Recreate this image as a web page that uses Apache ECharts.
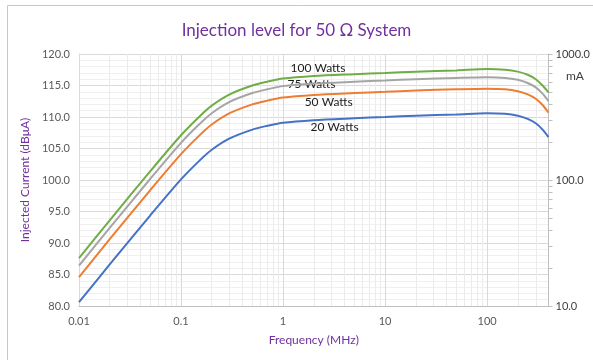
<!DOCTYPE html>
<html>
<head>
<meta charset="utf-8">
<script src="https://cdn.jsdelivr.net/npm/echarts@6/dist/echarts.min.js"></script>
<style>
  html, body { margin: 0; padding: 0; background: #fff; }
  #chart { width: 593px; height: 360px; }
</style>
</head>
<body>
<div id="chart"></div>
<script>
// frequency points (MHz)
var freq = [0.01, 0.02, 0.05, 0.1, 0.15, 0.2, 0.3, 0.5, 0.7, 1, 2, 5, 10, 20, 50, 100, 150, 200, 250, 300, 350, 400];
// injected current, dBuA
var w20 = [80.6, 86.6, 94.4, 100.1, 103.0, 104.8, 106.6, 108.0, 108.6, 109.1, 109.5, 109.8, 110.0, 110.2, 110.4, 110.6, 110.5, 110.2, 109.7, 109.0, 108.0, 106.8];
var w50 = [84.6, 90.6, 98.4, 104.1, 107.0, 108.8, 110.6, 112.0, 112.6, 113.1, 113.5, 113.8, 114.0, 114.2, 114.4, 114.5, 114.4, 114.1, 113.6, 112.9, 111.9, 110.7];
var w75 = [86.4, 92.4, 100.2, 105.9, 108.8, 110.6, 112.4, 113.8, 114.4, 114.9, 115.3, 115.6, 115.8, 116.0, 116.2, 116.3, 116.2, 115.9, 115.4, 114.7, 113.7, 112.5];
var w100 = [87.6, 93.6, 101.4, 107.1, 110.0, 111.8, 113.6, 115.0, 115.6, 116.1, 116.5, 116.8, 117.0, 117.2, 117.4, 117.6, 117.5, 117.2, 116.7, 116.0, 115.0, 113.9];

var seriesNames = ['20 Watts', '50 Watts', '75 Watts', '100 Watts'];
var seriesColors = ['#4472C4', '#ED7D31', '#A5A5A5', '#70AD47'];
// where each name sits on the plot [MHz, dBuA]
var nameAt = [[3.2, 108.4], [2.8, 112.4], [1.9, 115.2], [2.2, 117.8]];

// right axis, mA
var mATicks = [10, 20, 30, 40, 50, 60, 70, 80, 90, 100, 200, 300, 400, 500, 600, 700, 800, 900, 1000];
var mALabels = [10, 100, 1000];

// minor vertical grid (2..9 per decade)
var minorFreq = [];
[0.01, 0.1, 1, 10, 100].forEach(function (d) {
    for (var k = 2; k <= 9; k++) {
        var f = +(d * k).toPrecision(3);
        if (f < 400) minorFreq.push(f);
    }
});

function mAtoDb(ma) { return 60 + 20 * Math.log10(ma); }

var font = 'Lato';
var chart = echarts.init(document.getElementById('chart'));

var allData = [w20, w50, w75, w100];
var series = allData.map(function (vals, i) {
    var s = {
        name: seriesNames[i],
        type: 'line',
        data: freq.map(function (f, j) { return [f, vals[j]]; }),
        showSymbol: false,
        smooth: 0.3,
        lineStyle: { color: seriesColors[i], width: 2 },
        itemStyle: { color: seriesColors[i] },
        z: 5 + i,
        markPoint: {
            symbolSize: 0,
            silent: true,
            label: {
                show: true,
                position: 'inside',
                color: '#1a1a1a',
                fontFamily: font,
                fontSize: 12,
                formatter: seriesNames[i]
            },
            data: [{ coord: nameAt[i] }]
        }
    };
    if (i === 0) {
        s.markLine = {
            silent: true,
            symbol: 'none',
            label: { show: false },
            lineStyle: { color: '#ebebeb', type: 'solid', width: 1 },
            data: minorFreq.map(function (f) { return { xAxis: f }; }),
            z: 1
        };
    }
    return s;
});

var option = {
    backgroundColor: '#fff',
    animation: false,
    title: {
        text: 'Injection level for 50 \u03A9 System',
        left: 'center',
        top: 17,
        textStyle: { color: '#7030A0', fontFamily: font, fontSize: 17, fontWeight: 'normal' }
    },
    grid: { left: 79, right: 41, top: 54, bottom: 54 },
    xAxis: {
        type: 'log',
        logBase: 10,
        min: 0.01,
        max: 400,
        name: 'Frequency (MHz)',
        nameLocation: 'middle',
        nameGap: 28,
        nameTextStyle: { color: '#7030A0', fontFamily: font, fontSize: 12 },
        axisLine: { show: true, lineStyle: { color: '#bfbfbf' } },
        axisTick: { show: false },
        axisLabel: {
            color: '#595959', fontFamily: font, fontSize: 11, margin: 10,
            showMaxLabel: false,
            formatter: function (v) { return String(v); }
        },
        splitLine: { show: true, lineStyle: { color: '#d9d9d9' } }
    },
    yAxis: [{
        type: 'value',
        min: 80,
        max: 120,
        interval: 5,
        name: 'Injected Current (dB\u03BCA)',
        nameLocation: 'middle',
        nameGap: 47,
        nameTextStyle: { color: '#7030A0', fontFamily: font, fontSize: 12 },
        axisLine: { show: true, lineStyle: { color: '#d9d9d9' } },
        axisTick: { show: false },
        axisLabel: {
            color: '#595959', fontFamily: font, fontSize: 11, margin: 9,
            formatter: function (v) { return v.toFixed(1); }
        },
        splitLine: { show: true, lineStyle: { color: '#d9d9d9' } },
        minorTick: { show: false, splitNumber: 5 },
        minorSplitLine: { show: true, lineStyle: { color: '#f0f0f0' } }
    }, {
        type: 'value',
        min: 80,
        max: 120,
        position: 'right',
        axisLine: { show: true, lineStyle: { color: '#bfbfbf' } },
        axisTick: {
            show: true, inside: false, length: 4,
            lineStyle: { color: '#bfbfbf' },
            customValues: mATicks.map(mAtoDb)
        },
        axisLabel: {
            color: '#404040', fontFamily: font, fontSize: 11, margin: 7,
            customValues: mALabels.map(mAtoDb),
            formatter: function (v) { return Math.pow(10, (v - 60) / 20).toFixed(1); }
        },
        splitLine: { show: false }
    }],
    graphic: [{
        type: 'rect',
        silent: true,
        shape: { x: 7.5, y: 5.5, width: 700, height: 500 },
        style: { fill: 'none', stroke: '#c8c8c8', lineWidth: 1 }
    }, {
        type: 'text',
        left: 566,
        top: 70,
        silent: true,
        style: { text: 'mA', fill: '#404040', font: '12px Lato' }
    }],
    series: series
};

chart.setOption(option);
</script>
</body>
</html>
